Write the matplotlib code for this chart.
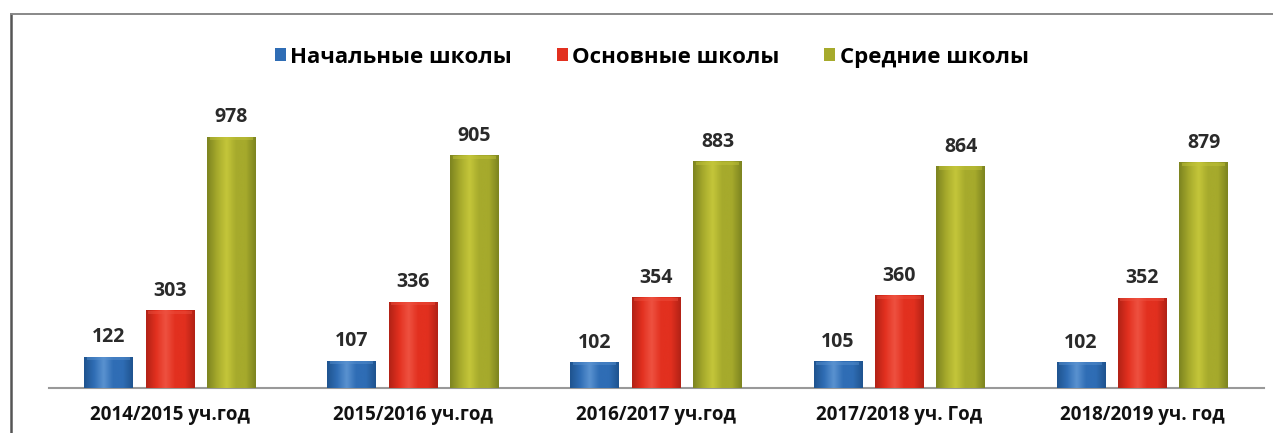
import numpy as np
import matplotlib
matplotlib.use("Agg")
import matplotlib.pyplot as plt
from matplotlib.patches import Patch
from matplotlib.colors import LinearSegmentedColormap
from matplotlib.lines import Line2D

categories = ["2014/2015 уч.год", "2015/2016 уч.год", "2016/2017 уч.год",
              "2017/2018 уч. Год", "2018/2019 уч. год"]
series_names = ["Начальные школы", "Основные школы", "Средние школы"]
primary = [122, 107, 102, 105, 102]
basic = [303, 336, 354, 360, 352]
secondary = [978, 905, 883, 864, 879]

colors = ["#2f6db5", "#e2301f", "#a6aa2c"]
dark = ["#1f548f", "#b22216", "#7d8420"]
light = ["#5a92d0", "#ee5140", "#c4c63a"]

plt.rcParams['font.family'] = ['Open Sans', 'DejaVu Sans']

fig = plt.figure(figsize=(12.73, 4.33), dpi=100)
fig.patch.set_facecolor("white")
ax = fig.add_axes([0.0381, 0.1039, 0.9545, 0.7575])

x = np.arange(len(categories))
width = 0.198
step = 0.253
ax.set_xlim(-0.5, len(categories) - 0.5)
ax.set_ylim(0, 1276)

for i, vals in enumerate([primary, basic, secondary]):
    bars = ax.bar(x + (i - 1) * step, vals, width, color=colors[i],
                  edgecolor="none", zorder=2)
    cmap = LinearSegmentedColormap.from_list(
        "c%d" % i, [dark[i], colors[i], light[i], colors[i], colors[i], dark[i]])
    grad = np.linspace(0, 1, 64).reshape(1, -1)
    for b, v in zip(bars, vals):
        x0, w = b.get_x(), b.get_width()
        im = ax.imshow(grad, extent=(x0, x0 + w, 0, v), aspect="auto",
                       cmap=cmap, zorder=3, interpolation="bicubic")
        im.set_clip_path(b)
        ax.bar(x0 + w / 2, 12, w * 0.9, bottom=v - 14, color=light[i],
               alpha=0.45, edgecolor="none", zorder=4)
        ax.text(x0 + w / 2, v + 36, str(v), ha="center", va="bottom",
                fontsize=14, fontweight="bold", color="#2a2a2a", zorder=5)

ax.set_xticks(x)
ax.set_xticklabels(categories, fontsize=13.5, fontweight="bold", color="#111111")
ax.tick_params(axis="x", length=0, pad=12)
ax.set_yticks([])
for s in ["top", "right", "left"]:
    ax.spines[s].set_visible(False)
ax.spines["bottom"].set_color("#999999")
ax.spines["bottom"].set_linewidth(1.5)

handles = [Patch(facecolor=c, edgecolor="none") for c in colors]
fig.legend(handles, series_names, loc="center", bbox_to_anchor=(0.512, 0.868),
           ncol=3, frameon=False, prop={"size": 16, "weight": "bold"},
           handlelength=0.5, handleheight=0.5, handletextpad=0.2,
           columnspacing=2.0)

fig.add_artist(Line2D([0.0086, 0.0086], [0.0, 0.968], color="#555555",
                      lw=1.8, transform=fig.transFigure))
fig.add_artist(Line2D([0.0086, 1.0], [0.968, 0.968], color="#888888",
                      lw=1.4, transform=fig.transFigure))

fig.savefig("out.png", dpi=100, facecolor="white")
